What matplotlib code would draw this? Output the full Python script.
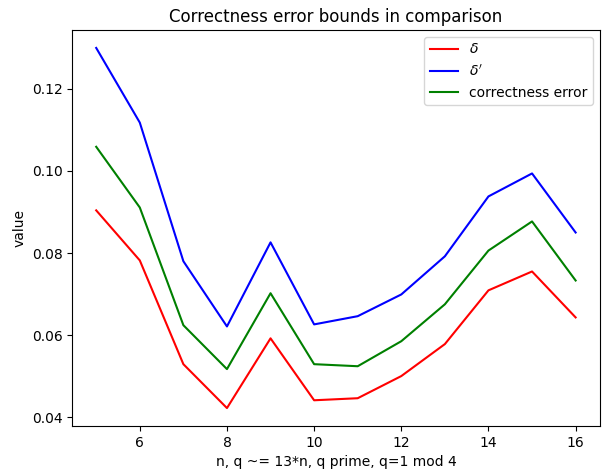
import numpy as np
import matplotlib.pyplot as plt

# n values and the three bounds
n = [5, 6, 7, 8, 9, 10, 11, 12, 13, 14, 15, 16]
delta = [0.0904, 0.0782, 0.0529, 0.0422, 0.0592, 0.0441, 0.0446, 0.0500, 0.0578, 0.0709, 0.0755, 0.0643]
delta_p = [0.1300, 0.1118, 0.0780, 0.0621, 0.0826, 0.0626, 0.0646, 0.0699, 0.0792, 0.0938, 0.0994, 0.0850]
corr_err = [0.1059, 0.0911, 0.0624, 0.0517, 0.0702, 0.0529, 0.0524, 0.0585, 0.0675, 0.0806, 0.0877, 0.0733]

fig = plt.figure(figsize=(6.02, 4.75), dpi=100)
plt.plot(n, delta, '-r', label=r'$\delta$')
plt.plot(n, delta_p, '-b', label=r"$\delta'$")
plt.plot(n, corr_err, '-g', label='correctness error')
plt.xlabel('n, q ~= 13*n, q prime, q=1 mod 4')
plt.ylabel('value')
plt.title('Correctness error bounds in comparison')
plt.legend()
plt.subplots_adjust(left=0.12, right=0.996, top=0.937, bottom=0.103)
plt.savefig('out.png')
